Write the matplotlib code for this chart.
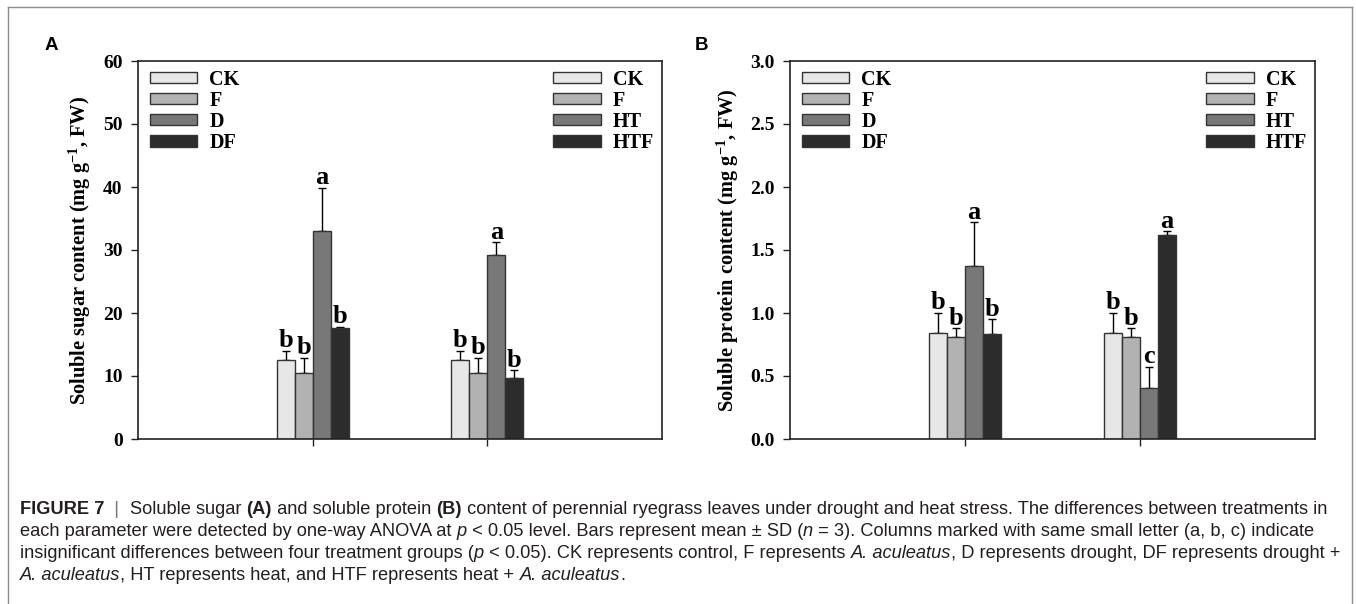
import numpy as np
import matplotlib
matplotlib.use("Agg")
import matplotlib.pyplot as plt
from matplotlib.patches import Patch
from matplotlib.lines import Line2D

plt.rcParams['font.family'] = 'Liberation Serif'
plt.rcParams['mathtext.fontset'] = 'custom'
plt.rcParams['mathtext.rm'] = 'Liberation Serif:bold'
plt.rcParams['mathtext.bf'] = 'Liberation Serif:bold'
plt.rcParams['mathtext.default'] = 'bf'

# data
groups = [1, 2]
sugar_mean = [[12.6, 10.4, 33.0, 17.6], [12.6, 10.4, 29.2, 9.7]]
sugar_sd = [[1.4, 2.5, 6.9, 0.2], [1.4, 2.5, 2.0, 1.2]]
sugar_sig = [['b', 'b', 'a', 'b'], ['b', 'b', 'a', 'b']]
protein_mean = [[0.84, 0.81, 1.37, 0.83], [0.84, 0.81, 0.405, 1.62]]
protein_sd = [[0.16, 0.07, 0.35, 0.12], [0.16, 0.07, 0.17, 0.027]]
protein_sig = [['b', 'b', 'a', 'b'], ['b', 'b', 'c', 'a']]
labels_drought = ['CK', 'F', 'D', 'DF']
labels_heat = ['CK', 'F', 'HT', 'HTF']
colors = ['#e6e7e6', '#b2b2b2', '#787878', '#2b2c2b']
edge = '#333333'
bw = 0.103

W, H = 1356, 604
fig = plt.figure(figsize=(W / 100, H / 100), dpi=100)

# outer frame of the figure panel
frame = dict(color='#8c8c8c', lw=1.0, transform=fig.transFigure)
fig.add_artist(Line2D([8 / W, 1352 / W], [1 - 7 / H, 1 - 7 / H], **frame))
fig.add_artist(Line2D([8 / W, 8 / W], [0, 1 - 7 / H], **frame))
fig.add_artist(Line2D([1352 / W, 1352 / W], [0, 1 - 7 / H], **frame))


def panel(ax, means, sds, sig, ymax, yticks, ylabel, tickfmt):
    offs = np.array([-1.5, -0.5, 0.5, 1.5]) * bw
    for g, m, s, lt in zip(groups, means, sds, sig):
        xs = g + offs
        ax.bar(xs, m, width=bw, color=colors, edgecolor=edge, linewidth=1.0, zorder=2)
        ax.errorbar(xs, m, yerr=[np.zeros(4), s], fmt='none', ecolor='black',
                    elinewidth=1.0, capsize=3, capthick=1.0, zorder=1)
        for x, top, t in zip(xs, np.array(m) + np.array(s), lt):
            ax.annotate(t, (x, top), xytext=(0, -1), textcoords='offset points',
                        ha='center', va='bottom', fontsize=19, fontweight='bold')
    ax.set_xlim(0, 3)
    ax.set_ylim(0, ymax)
    ax.set_xticks(groups)
    ax.set_xticklabels([])
    ax.set_yticks(yticks)
    ax.set_yticklabels([tickfmt.format(v) for v in yticks], fontsize=14, fontweight='bold')
    ax.tick_params(direction='out', length=5, width=1.0, color='#222222', pad=6)
    for sp in ax.spines.values():
        sp.set_linewidth(1.2)
        sp.set_color('#222222')
    ax.set_ylabel(ylabel, fontsize=14.7, fontweight='bold', labelpad=7)


def legends(ax, right_labels):
    left = [Patch(facecolor=c, edgecolor=edge, linewidth=1.0) for c in colors]
    kw = dict(frameon=False, handlelength=2.35, handleheight=0.5, labelspacing=0.055,
              handletextpad=0.6, borderpad=0, borderaxespad=0,
              prop=dict(size=14.5, weight='bold'))
    l1 = ax.legend(left, labels_drought, loc='upper left', bbox_to_anchor=(0.023, 0.977), **kw)
    ax.add_artist(l1)
    ax.legend(left, right_labels, loc='upper right', bbox_to_anchor=(0.985, 0.977), **kw)


axA = fig.add_axes([138 / W, 1 - 439 / H, 524 / W, 378 / H])
panel(axA, sugar_mean, sugar_sd, sugar_sig, 60, np.arange(0, 61, 10),
      'Soluble sugar content (mg g$^{-1}$, FW)', '{:.0f}')
legends(axA, labels_heat)

axB = fig.add_axes([790 / W, 1 - 439 / H, 525 / W, 378 / H])
panel(axB, protein_mean, protein_sd, protein_sig, 3.0, np.arange(0, 3.01, 0.5),
      'Soluble protein content (mg g$^{-1}$, FW)', '{:.1f}')
legends(axB, labels_heat)

fig.text(45 / W, 1 - 45 / H, 'A', family='Liberation Sans', fontweight='bold', fontsize=13.5, va='center')
fig.text(695 / W, 1 - 45 / H, 'B', family='Liberation Sans', fontweight='bold', fontsize=13.5, va='center')

# caption, written as runs of plain / bold / italic text
cap_lines = [
    [('FIGURE 7', 'b'), ('  |  ', 'bar'), ('Soluble sugar ', 'n'), ('(A)', 'b'),
     (' and soluble protein ', 'n'), ('(B)', 'b'),
     (' content of perennial ryegrass leaves under drought and heat stress. The differences between treatments in', 'n')],
    [('each parameter were detected by one-way ANOVA at ', 'n'), ('p', 'i'),
     (' < 0.05 level. Bars represent mean \u00b1 SD (', 'n'), ('n', 'i'),
     (' = 3). Columns marked with same small letter (a, b, c) indicate', 'n')],
    [('insignificant differences between four treatment groups (', 'n'), ('p', 'i'),
     (' < 0.05). CK represents control, F represents ', 'n'), ('A. aculeatus', 'i'),
     (', D represents drought, DF represents drought +', 'n')],
    [('A. aculeatus', 'i'), (', HT represents heat, and HTF represents heat + ', 'n'),
     ('A. aculeatus', 'i'), ('.', 'n')],
]
cap_y = [509, 531, 553, 575]
renderer = fig.canvas.get_renderer()


def style(kind, size):
    d = dict(family='Liberation Sans', fontsize=size, color='#231f20', va='center', ha='left')
    if kind == 'b':
        d['fontweight'] = 'bold'
    elif kind == 'i':
        d['fontstyle'] = 'italic'
    elif kind == 'bar':
        d['color'] = '#777777'
    return d


def width_of(s, kind, size):
    # measure including leading/trailing blanks by padding with a visible char
    t = fig.text(0, 0, '|' + s + '|', **style(kind, size))
    t2 = fig.text(0, 0, '||', **style(kind, size))
    w = t.get_window_extent(renderer).width - t2.get_window_extent(renderer).width
    t.remove()
    t2.remove()
    return w


size = 10.0
w0 = sum(width_of(s, k, size) for s, k in cap_lines[0])
size = size * 1313 / w0

for line, y in zip(cap_lines, cap_y):
    x = 20.0
    for s, k in line:
        fig.text(x / W, 1 - y / H, s, **style(k, size))
        x += width_of(s, k, size)

fig.savefig('out.png', dpi=100)
